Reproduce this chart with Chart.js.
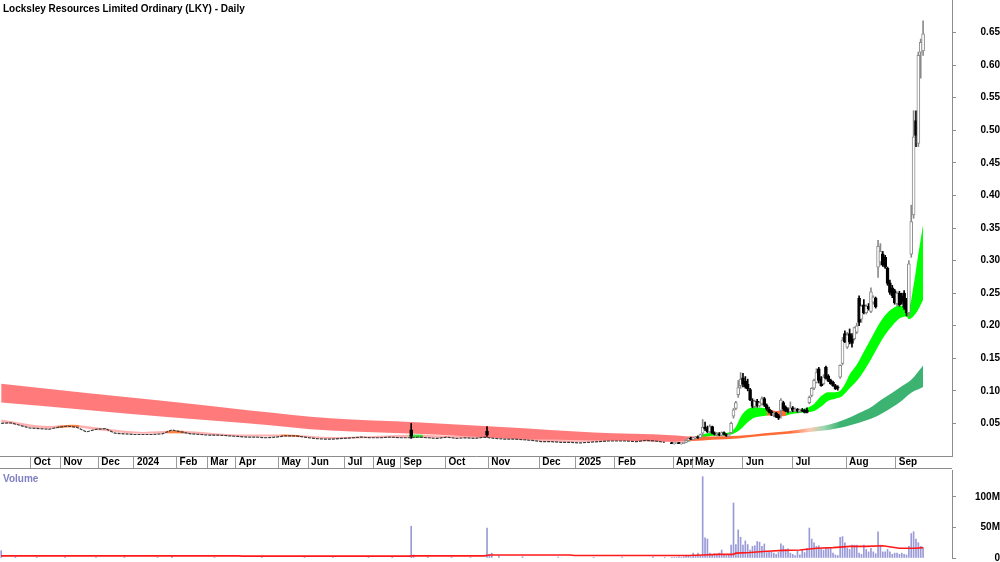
<!DOCTYPE html>
<html>
<head>
<meta charset="utf-8">
<title>Locksley Resources Limited Ordinary (LKY) - Daily</title>
<script src="https://cdn.jsdelivr.net/npm/chart.js@4.4.1/dist/chart.umd.min.js"></script>
<style>
  html, body { margin: 0; padding: 0; background: #fff; }
  #wrap { position: relative; width: 1000px; height: 562px; overflow: hidden; }
  canvas { display: block; }
</style>
</head>
<body>
<div id="wrap">
  <canvas id="price" width="1000" height="468"></canvas>
  <canvas id="volume" width="1000" height="94"></canvas>
</div>
<script>
const FONT = '"Liberation Sans", Arial, sans-serif';
Chart.defaults.font.family = FONT;
Chart.defaults.font.size = 10;
Chart.defaults.font.weight = "bold";
Chart.defaults.color = "#000";

// bar index range shown on both panels
const X_MIN = -0.5;
const X_MAX = 401.2;

// month boundaries, as bar index
const monthTicks = [12.5, 25, 41, 56, 74, 87, 99, 117, 129.5, 145, 157, 168.5, 187.5, 205.5, 227, 242.5, 259, 283.5, 291.5, 313, 334, 356.5, 377.5];
const monthLabels = ["Oct", "Nov", "Dec", "2024", "Feb", "Mar", "Apr", "May", "Jun", "Jul", "Aug", "Sep", "Oct", "Nov", "Dec", "2025", "Feb", "Apr", "May", "Jun", "Jul", "Aug", "Sep"];

const priceTicks = [0.05, 0.1, 0.15, 0.2, 0.25, 0.3, 0.35, 0.4, 0.45, 0.5, 0.55, 0.6, 0.65];
const volumeTicks = [0, 50, 100];

// quiet stretch Sep 2023 - Apr 2025: one close every 4 bars
const flatStep = 4;
const flatCloses = [
  0.050, 0.051, 0.047, 0.043, 0.042, 0.041, 0.044, 0.046, 0.044, 0.037,
  0.041, 0.042, 0.035, 0.034, 0.033, 0.033, 0.033, 0.034, 0.040, 0.037,
  0.034, 0.033, 0.032, 0.032, 0.031, 0.030, 0.029, 0.029, 0.028, 0.029,
  0.031, 0.031, 0.029, 0.027, 0.026, 0.026, 0.027, 0.028, 0.029, 0.028,
  0.028, 0.029, 0.028, 0.028, 0.029, 0.028, 0.027, 0.029, 0.027, 0.028,
  0.027, 0.029, 0.027, 0.026, 0.026, 0.025, 0.024, 0.022, 0.022, 0.021,
  0.021, 0.020, 0.021, 0.022, 0.023, 0.023, 0.023, 0.022, 0.024, 0.023,
  0.021
];

// the two spike days in the quiet stretch
const spikeIdx = [173, 205];
const spikeOpen = [0.040, 0.038];
const spikeHigh = [0.050, 0.045];
const spikeLow = [0.027, 0.030];
const spikeClose = [0.030, 0.032];

// daily candles from late April 2025
const activeStart = 283;
const opens = [
  0.020, 0.019, 0.019, 0.020, 0.019, 0.019, 0.021, 0.024, 0.027, 0.026,
  0.027, 0.029, 0.028, 0.035, 0.044, 0.041, 0.037, 0.045, 0.035, 0.033,
  0.034, 0.032, 0.036, 0.033, 0.031, 0.036, 0.061, 0.073, 0.094, 0.108,
  0.120, 0.115, 0.110, 0.102, 0.085, 0.076, 0.084, 0.077, 0.080, 0.088,
  0.078, 0.072, 0.068, 0.063, 0.066, 0.062, 0.070, 0.082, 0.075, 0.072,
  0.068, 0.074, 0.069, 0.072, 0.068, 0.071, 0.070, 0.070, 0.082, 0.093,
  0.104, 0.113, 0.134, 0.119, 0.111, 0.136, 0.123, 0.116, 0.113, 0.108,
  0.106, 0.121, 0.142, 0.188, 0.167, 0.188, 0.185, 0.180, 0.190, 0.242,
  0.210, 0.232, 0.220, 0.230, 0.222, 0.236, 0.242, 0.290, 0.298, 0.310,
  0.305, 0.288, 0.266, 0.258, 0.254, 0.234, 0.250, 0.246, 0.250, 0.239,
  0.220, 0.310, 0.370, 0.515, 0.480, 0.620, 0.622
];
const highs = [
  0.021, 0.020, 0.020, 0.021, 0.019, 0.021, 0.025, 0.028, 0.029, 0.028,
  0.030, 0.031, 0.034, 0.056, 0.052, 0.046, 0.048, 0.046, 0.037, 0.036,
  0.036, 0.037, 0.037, 0.034, 0.034, 0.052, 0.073, 0.084, 0.116, 0.128,
  0.127, 0.122, 0.118, 0.104, 0.088, 0.086, 0.087, 0.084, 0.091, 0.090,
  0.080, 0.075, 0.070, 0.068, 0.067, 0.064, 0.088, 0.084, 0.077, 0.074,
  0.083, 0.076, 0.074, 0.073, 0.072, 0.073, 0.072, 0.074, 0.092, 0.105,
  0.118, 0.134, 0.136, 0.122, 0.125, 0.138, 0.125, 0.118, 0.115, 0.110,
  0.108, 0.140, 0.182, 0.192, 0.190, 0.195, 0.188, 0.198, 0.204, 0.246,
  0.232, 0.240, 0.232, 0.234, 0.258, 0.246, 0.244, 0.331, 0.326, 0.314,
  0.308, 0.290, 0.270, 0.262, 0.256, 0.252, 0.253, 0.250, 0.254, 0.242,
  0.300, 0.385, 0.530, 0.530, 0.620, 0.640, 0.668
];
const lows = [
  0.019, 0.018, 0.019, 0.019, 0.018, 0.019, 0.021, 0.023, 0.025, 0.025,
  0.026, 0.027, 0.028, 0.032, 0.039, 0.036, 0.036, 0.034, 0.032, 0.031,
  0.031, 0.031, 0.032, 0.030, 0.030, 0.035, 0.058, 0.071, 0.090, 0.104,
  0.106, 0.104, 0.100, 0.085, 0.074, 0.074, 0.075, 0.075, 0.078, 0.076,
  0.070, 0.066, 0.062, 0.060, 0.059, 0.056, 0.058, 0.070, 0.068, 0.066,
  0.067, 0.068, 0.068, 0.067, 0.067, 0.068, 0.066, 0.066, 0.080, 0.091,
  0.102, 0.112, 0.112, 0.107, 0.109, 0.118, 0.114, 0.110, 0.107, 0.102,
  0.101, 0.119, 0.140, 0.174, 0.165, 0.172, 0.167, 0.178, 0.188, 0.200,
  0.205, 0.218, 0.218, 0.224, 0.220, 0.233, 0.227, 0.274, 0.293, 0.291,
  0.288, 0.262, 0.248, 0.243, 0.233, 0.230, 0.230, 0.233, 0.225, 0.215,
  0.215, 0.305, 0.365, 0.475, 0.475, 0.580, 0.615
];
const closes = [
  0.019, 0.019, 0.020, 0.019, 0.019, 0.021, 0.024, 0.027, 0.026, 0.027,
  0.029, 0.028, 0.033, 0.044, 0.041, 0.037, 0.045, 0.035, 0.033, 0.034,
  0.032, 0.036, 0.033, 0.031, 0.033, 0.050, 0.071, 0.082, 0.105, 0.118,
  0.110, 0.106, 0.103, 0.086, 0.076, 0.084, 0.077, 0.082, 0.088, 0.078,
  0.072, 0.068, 0.064, 0.066, 0.060, 0.058, 0.086, 0.072, 0.069, 0.068,
  0.074, 0.070, 0.072, 0.069, 0.071, 0.069, 0.067, 0.067, 0.090, 0.104,
  0.116, 0.128, 0.116, 0.108, 0.121, 0.119, 0.115, 0.111, 0.108, 0.103,
  0.104, 0.139, 0.178, 0.175, 0.186, 0.175, 0.173, 0.197, 0.200, 0.205,
  0.230, 0.220, 0.230, 0.226, 0.252, 0.244, 0.229, 0.322, 0.314, 0.293,
  0.290, 0.265, 0.251, 0.246, 0.235, 0.250, 0.232, 0.236, 0.228, 0.220,
  0.295, 0.360, 0.490, 0.492, 0.615, 0.635, 0.648
];

// long-term moving average band (bar index, upper, lower)
const longIdx = [0, 35, 70, 105, 139, 175, 213, 250, 283, 292, 300, 311, 322, 332, 341, 349, 356, 362, 367, 372, 376, 380, 384, 389];
const longUpper = [0.111, 0.097, 0.084, 0.070, 0.058, 0.052, 0.044, 0.036, 0.032, 0.030, 0.030, 0.031, 0.035, 0.038, 0.043, 0.048, 0.056, 0.066, 0.075, 0.088, 0.097, 0.107, 0.117, 0.139];
const longLower = [0.082, 0.071, 0.060, 0.050, 0.039, 0.034, 0.027, 0.024, 0.022, 0.023, 0.025, 0.027, 0.031, 0.034, 0.037, 0.040, 0.045, 0.051, 0.057, 0.066, 0.075, 0.085, 0.097, 0.106];

// short-term moving average band
const shortIdx = [0, 20, 30, 40, 60, 73, 80, 100, 120, 140, 160, 175, 190, 206, 220, 240, 260, 280, 288, 290, 296, 300, 305, 308, 310, 312, 315, 318, 321, 324, 327, 330, 333, 337, 340, 343, 346, 349, 352, 354, 356, 358, 361, 364, 367, 370, 373, 376, 379, 382, 383, 385, 387, 389];
const shortUpper = [0.056, 0.046, 0.048, 0.044, 0.037, 0.039, 0.038, 0.033, 0.033, 0.029, 0.031, 0.033, 0.031, 0.033, 0.028, 0.024, 0.025, 0.024, 0.022, 0.025, 0.033, 0.036, 0.035, 0.038, 0.045, 0.060, 0.072, 0.075, 0.074, 0.072, 0.069, 0.071, 0.072, 0.071, 0.074, 0.080, 0.092, 0.098, 0.098, 0.100, 0.110, 0.125, 0.140, 0.160, 0.180, 0.200, 0.216, 0.226, 0.231, 0.229, 0.228, 0.262, 0.310, 0.355];
const shortLower = [0.052, 0.042, 0.044, 0.040, 0.034, 0.035, 0.034, 0.030, 0.030, 0.026, 0.028, 0.028, 0.028, 0.028, 0.025, 0.021, 0.023, 0.022, 0.020, 0.022, 0.028, 0.031, 0.032, 0.033, 0.036, 0.041, 0.052, 0.059, 0.061, 0.062, 0.061, 0.061, 0.064, 0.066, 0.067, 0.069, 0.076, 0.085, 0.088, 0.090, 0.096, 0.104, 0.115, 0.130, 0.148, 0.168, 0.186, 0.200, 0.211, 0.214, 0.210, 0.215, 0.225, 0.240];

// volume in millions
const volActive = [
  1, 1, 1, 2, 1, 2, 3, 3, 2, 8,
  3, 8, 4, 133, 33, 31, 8, 6, 7, 6,
  8, 13, 5, 4, 6, 21, 90, 22, 46, 34,
  21, 28, 22, 13, 19, 20, 27, 26, 19, 23,
  9, 10, 10, 8, 6, 9, 23, 20, 14, 15,
  8, 6, 4, 11, 5, 13, 9, 16, 49, 31,
  25, 19, 20, 15, 13, 16, 15, 16, 8, 5,
  4, 34, 35, 25, 16, 14, 21, 21, 21, 8,
  6, 21, 14, 10, 16, 10, 7, 43, 21, 10,
  10, 14, 10, 6, 8, 8, 6, 8, 6, 5,
  19, 40, 43, 31, 25, 19, 17
];
const volFlatIdx = [0, 6, 15, 27, 40, 52, 66, 72, 90, 110, 128, 140, 155, 165, 173, 174, 180, 190, 198, 205, 206, 207, 210, 220, 235, 250, 262, 275, 280];
const volFlatVals = [12, 2, 1.5, 2, 1, 1.5, 1, 3, 1, 1.5, 1, 2, 1, 1.5, 52, 5, 2, 1.5, 1, 49, 6, 8, 3, 2, 1.5, 1, 1.5, 2, 1];
const volMaIdx = [0, 100, 102, 172, 174, 204, 206, 240, 242, 290, 296, 302, 309, 310, 316, 323, 330, 337, 344, 351, 358, 365, 372, 379, 386, 389];
const volMaVals = [3.5, 3.5, 3, 3, 3.5, 3.5, 5, 5, 4, 4, 5, 6, 6, 8, 9, 11, 12.5, 13, 16, 17, 19, 19, 20, 16, 16, 17];

// colours along the bands (bar index, colour)
const longStops = [[-1, "#ff7b7b"], [289, "#ff7b7b"], [294, "#ff6a35"], [333, "#ff6a35"], [341, "#ffc8b0"], [347, "#9ed6b0"], [354, "#3cb371"], [402, "#3cb371"]];
const shortStops = [
  [-1, "#ffb0b0"], [24, "#ffb0b0"], [24, "#ff8040"], [33, "#ff8040"], [33, "#ffb0b0"],
  [70, "#ffb0b0"], [70, "#ff8040"], [77, "#ff8040"], [77, "#ffb0b0"],
  [118, "#ffb0b0"], [118, "#ff8040"], [126, "#ff8040"], [126, "#ffb0b0"],
  [172, "#ffb0b0"], [172, "#40e040"], [178, "#40e040"], [178, "#ffb0b0"],
  [288, "#ffb0b0"], [291, "#00ff00"], [323, "#00ff00"], [323, "#ff6a35"],
  [331, "#ff6a35"], [331, "#00ff00"], [402, "#00ff00"]
];

const candles = [];
spikeIdx.forEach((x, i) => {
  candles.push({ x, o: spikeOpen[i], h: spikeHigh[i], l: spikeLow[i], c: spikeClose[i] });
});
opens.forEach((o, i) => {
  candles.push({ x: activeStart + i, o, h: highs[i], l: lows[i], c: closes[i] });
});
const isUp = (k) => candles[k].c >= candles[k].o;

const points = (xs, ys) => xs.map((x, i) => ({ x, y: ys[i] }));

function bandFill(stops) {
  return (ctx) => {
    const chart = ctx.chart;
    const area = chart.chartArea;
    if (!area) return stops[0][1];
    const xs = chart.scales.x;
    const g = chart.ctx.createLinearGradient(area.left, 0, area.right, 0);
    stops.forEach(([idx, color]) => {
      const t = (xs.getPixelForValue(idx) - area.left) / (area.right - area.left);
      g.addColorStop(Math.min(1, Math.max(0, t)), color);
    });
    return g;
  };
}

const band = (data, fill, bg) => ({
  type: "line",
  data,
  fill,
  backgroundColor: bg,
  borderWidth: 0,
  borderColor: "rgba(0,0,0,0)",
  pointRadius: 0,
  cubicInterpolationMode: "monotone",
  order: 10,
});

// no extra room around the axes: the plot runs edge to edge
const noPad = (s) => {
  s.paddingTop = 0;
  s.paddingBottom = 0;
  s.paddingLeft = 0;
  s.paddingRight = 0;
};

const panelText = {
  id: "panelText",
  afterDraw(chart, args, opts) {
    const c = chart.ctx;
    c.save();
    if (opts.topLine) {
      c.strokeStyle = "#8c8c8c";
      c.lineWidth = 1;
      c.beginPath();
      c.moveTo(0, 0.5);
      c.lineTo(chart.chartArea.right, 0.5);
      c.stroke();
    }
    c.font = "bold 10px " + FONT;
    c.fillStyle = opts.color;
    c.fillText(opts.text, 3, opts.y);
    c.restore();
  },
};

new Chart(document.getElementById("price"), {
  type: "bar",
  data: {
    datasets: [
      band(points(longIdx, longUpper), "+1", bandFill(longStops)),
      band(points(longIdx, longLower), false, "rgba(0,0,0,0)"),
      band(points(shortIdx, shortUpper), "+1", bandFill(shortStops)),
      band(points(shortIdx, shortLower), false, "rgba(0,0,0,0)"),
      {
        type: "line",
        data: flatCloses.map((c, i) => ({ x: i * flatStep, y: c })),
        borderColor: "#3a3a3a",
        borderWidth: 1.2,
        borderDash: [3, 1],
        pointRadius: 0,
        order: 5,
      },
      {
        data: candles.map((d) => ({ x: d.x, y: [d.l, d.h] })),
        backgroundColor: (ctx) => (isUp(ctx.dataIndex) ? "#8a8a8a" : "#000"),
        barThickness: 1,
        grouped: false,
        order: 2,
      },
      {
        data: candles.map((d) => ({ x: d.x, y: [Math.min(d.o, d.c), Math.max(d.o, d.c)] })),
        backgroundColor: (ctx) => (isUp(ctx.dataIndex) ? "#fff" : "#000"),
        borderColor: (ctx) => (isUp(ctx.dataIndex) ? "#8a8a8a" : "#000"),
        borderWidth: 1,
        borderSkipped: false,
        barThickness: 3,
        minBarLength: 1,
        grouped: false,
        order: 1,
      },
    ],
  },
  options: {
    responsive: false,
    animation: false,
    devicePixelRatio: 1,
    layout: { padding: 0 },
    plugins: {
      legend: { display: false },
      tooltip: { enabled: false },
      panelText: { text: "Locksley Resources Limited Ordinary (LKY) - Daily", y: 12, color: "#000" },
    },
    scales: {
      x: {
        type: "linear",
        min: X_MIN,
        max: X_MAX,
        offset: false,
        afterBuildTicks: (s) => {
          s.ticks = monthTicks.map((v) => ({ value: v }));
        },
        afterFit: (s) => {
          s.height = 12;
          noPad(s);
        },
        ticks: {
          autoSkip: false,
          maxRotation: 0,
          align: "start",
          labelOffset: 3,
          padding: -12,
          callback: (v, i) => monthLabels[i],
        },
        grid: { offset: false, drawOnChartArea: false, drawTicks: true, tickLength: 12, color: "#9a9a9a" },
        border: { color: "#8c8c8c" },
      },
      y: {
        position: "right",
        min: 0,
        max: 0.7,
        afterBuildTicks: (s) => {
          s.ticks = priceTicks.map((v) => ({ value: v }));
        },
        afterFit: (s) => {
          s.width = 48;
          noPad(s);
        },
        ticks: { crossAlign: "far", padding: 21, callback: (v) => v.toFixed(2) },
        grid: { drawOnChartArea: false, tickLength: 4, color: "#8c8c8c" },
        border: { color: "#8c8c8c" },
      },
    },
  },
  plugins: [panelText],
});

const volBars = volFlatIdx.map((x, i) => ({ x, y: volFlatVals[i] }));
volActive.forEach((v, i) => volBars.push({ x: activeStart + i, y: v }));

new Chart(document.getElementById("volume"), {
  type: "bar",
  data: {
    datasets: [
      {
        type: "line",
        data: points(volMaIdx, volMaVals),
        borderColor: "#ff1a1a",
        borderWidth: 1.6,
        pointRadius: 0,
        order: 1,
      },
      {
        data: volBars,
        backgroundColor: "#9a9ad8",
        barThickness: 1,
        grouped: false,
        order: 2,
      },
    ],
  },
  options: {
    responsive: false,
    animation: false,
    devicePixelRatio: 1,
    layout: { padding: { top: 2, bottom: 4 } },
    plugins: {
      legend: { display: false },
      tooltip: { enabled: false },
      panelText: { text: "Volume", y: 14, color: "#7f7fc4", topLine: true },
    },
    scales: {
      x: { type: "linear", min: X_MIN, max: X_MAX, offset: false, display: false },
      y: {
        position: "right",
        min: 0,
        max: 144,
        afterBuildTicks: (s) => {
          s.ticks = volumeTicks.map((v) => ({ value: v }));
        },
        afterFit: (s) => {
          s.width = 48;
          noPad(s);
        },
        ticks: { crossAlign: "far", padding: 16, callback: (v) => (v === 0 ? "0" : v + "M") },
        grid: { drawOnChartArea: false, tickLength: 4, color: "#8c8c8c" },
        border: { color: "#8c8c8c" },
      },
    },
  },
  plugins: [panelText],
});
</script>
</body>
</html>
